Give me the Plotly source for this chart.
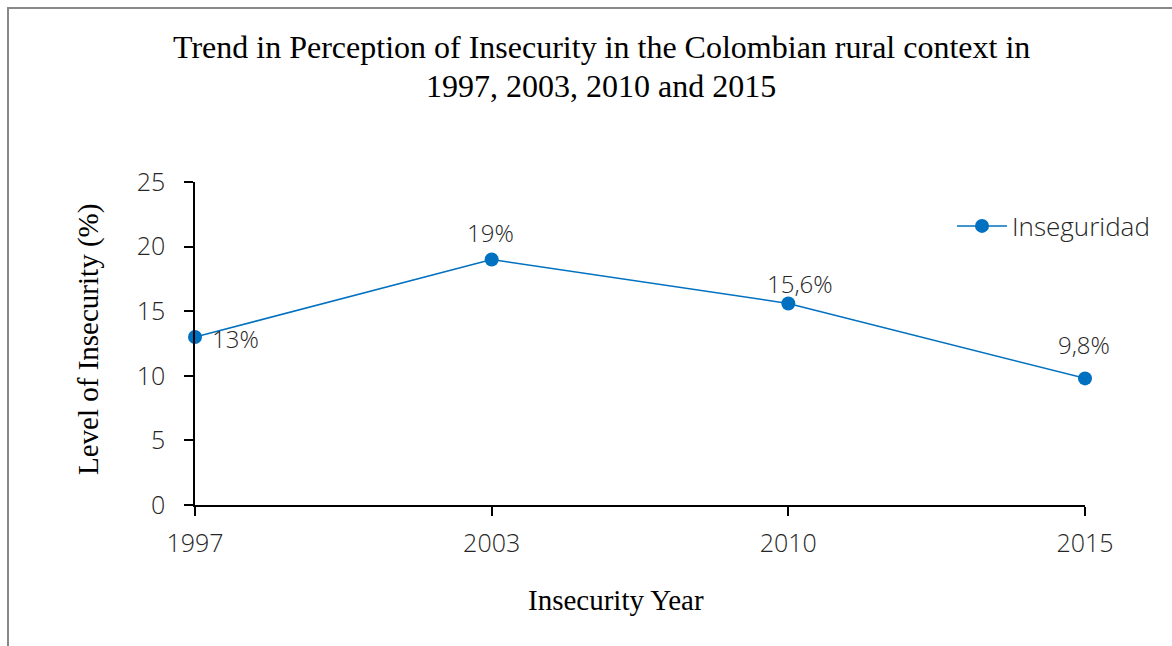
import plotly.graph_objects as go

years = ["1997", "2003", "2010", "2015"]
values = [13, 19, 15.6, 9.8]
point_labels = ["13%", "19%", "15,6%", "9,8%"]
y_ticks = [0, 5, 10, 15, 20, 25]
series_name = "Inseguridad"
title_lines = ["Trend in Perception of Insecurity in the Colombian rural context in",
               "1997, 2003, 2010 and 2015"]

# label placement (pixel offsets from the point, like Excel's manual label positions)
label_dx = [40, -1, 12, -1]
label_dy = [-3, 25, 18, 32]

W, H = 1172, 646
L, R, T, B = 195, 1085, 182, 505


def px(x):
    return (x - L) / (R - L)


def py(y):
    return (B - y) / (B - T)


txt_color = "#262626"
sans = dict(family="Open Sans", size=25, color=txt_color, weight=300)
serif = "Liberation Serif"

xs = list(range(len(years)))

fig = go.Figure()
fig.add_trace(go.Scatter(
    x=xs, y=values,
    mode="lines+markers",
    name=series_name,
    line=dict(color="#0070C0", width=1.5),
    marker=dict(size=14, color="#0070C0"),
    cliponaxis=False,
))

label_annots = [
    dict(x=x, y=v, xref="x", yref="y", text=t, showarrow=False,
         xanchor="center", yanchor="middle", xshift=dx, yshift=dy + 2,
         font=dict(family="Open Sans", size=24, color=txt_color, weight=300))
    for x, v, t, dx, dy in zip(xs, values, point_labels, label_dx, label_dy)
]

title_annots = [
    dict(text=line, x=px(601), y=py(yc), xref="paper", yref="paper",
         xanchor="center", yanchor="middle", showarrow=False,
         font=dict(family=serif, size=32, color="black"))
    for line, yc in zip(title_lines, [47, 86])
]

fig.update_layout(
    width=W, height=H,
    margin=dict(l=L, r=W - R, t=T, b=H - B, pad=0),
    paper_bgcolor="white", plot_bgcolor="white",
    showlegend=True,
    legend=dict(x=px(952), y=py(226), xanchor="left", yanchor="middle",
                font=dict(family="Open Sans", size=26, color=txt_color, weight=300),
                itemwidth=50, bgcolor="rgba(0,0,0,0)"),
    xaxis=dict(
        range=[0, len(years) - 1],
        tickmode="array", tickvals=xs, ticktext=years,
        showgrid=False, zeroline=False,
        showline=True, linecolor="black", linewidth=1.5,
        ticks="outside", ticklen=9, tickwidth=1.5, tickcolor="black",
        tickfont=sans, ticklabelstandoff=6,
    ),
    yaxis=dict(
        range=[0, 25], tickmode="array", tickvals=y_ticks,
        showgrid=False, zeroline=False,
        showline=True, linecolor="black", linewidth=1.5,
        ticks="outside", ticklen=9, tickwidth=1.5, tickcolor="black",
        tickfont=sans, ticklabelstandoff=14,
    ),
    annotations=label_annots + title_annots + [
        dict(text="Level of Insecurity (%)", textangle=-90,
             x=px(88), y=py(340), xref="paper", yref="paper", xanchor="center", yanchor="middle",
             showarrow=False, font=dict(family=serif, size=29, color="black")),
        dict(text="Insecurity Year",
             x=px(616), y=py(600), xref="paper", yref="paper", xanchor="center", yanchor="middle",
             showarrow=False, font=dict(family=serif, size=29, color="black")),
    ],
    shapes=[
        dict(type="rect", xref="paper", yref="paper",
             x0=px(8), y0=py(8), x1=px(1200), y1=py(700),
             line=dict(color="#888888", width=2), fillcolor="rgba(0,0,0,0)", layer="below"),
    ],
)

fig.write_html("out.html")
